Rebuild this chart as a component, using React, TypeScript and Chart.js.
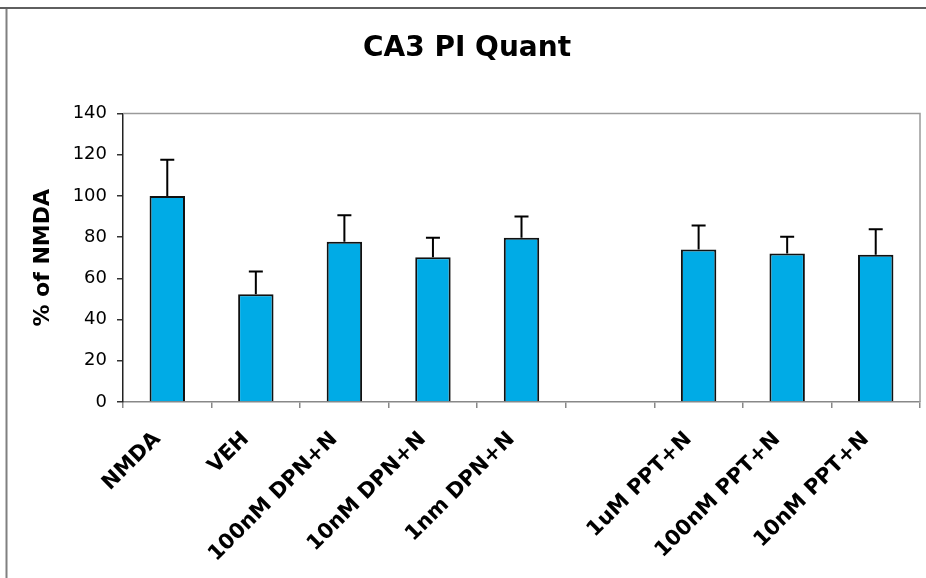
import React, { useEffect, useRef } from "react";
import { Chart, registerables } from "chart.js";

Chart.register(...registerables);

const chartTitle = "CA3 PI Quant";
const yAxisTitle = "% of NMDA";
const categories = [
  "NMDA",
  "VEH",
  "100nM DPN+N",
  "10nM DPN+N",
  "1nm DPN+N",
  "",
  "1uM PPT+N",
  "100nM PPT+N",
  "10nM PPT+N",
];
const means: (number | null)[] = [100, 52.3, 77.8, 70.3, 79.7, null, 74.0, 72.1, 71.5];
const errorsUp: (number | null)[] = [17.6, 11.1, 12.8, 9.4, 10.4, null, 11.7, 8.1, 12.3];
const yMin = 0;
const yMax = 140;
const yStep = 20;

const W = 926;
const H = 578;

const framePlugin = {
  id: "frameAndErrors",
  beforeDraw(chart: any) {
    const ctx = chart.ctx;
    ctx.save();
    ctx.fillStyle = "#ffffff";
    ctx.fillRect(0, 0, chart.width, chart.height);
    ctx.strokeStyle = "#808080";
    ctx.lineWidth = 2;
    ctx.beginPath();
    ctx.moveTo(6.5, chart.height);
    ctx.lineTo(6.5, 9);
    ctx.stroke();
    ctx.strokeStyle = "#2a2a2a";
    ctx.lineWidth = 1.5;
    ctx.beginPath();
    ctx.moveTo(0, 8);
    ctx.lineTo(chart.width, 8);
    ctx.stroke();
    ctx.restore();
  },
  afterDatasetsDraw(chart: any) {
    const ctx = chart.ctx;
    const meta = chart.getDatasetMeta(0);
    const ys = chart.scales.y;
    ctx.save();
    ctx.strokeStyle = "#000000";
    ctx.lineWidth = 2;
    meta.data.forEach((bar: any, i: number) => {
      const v = means[i];
      const e = errorsUp[i];
      if (v == null || e == null) return;
      const x = bar.x;
      const y0 = ys.getPixelForValue(v);
      const y1 = ys.getPixelForValue(v + e);
      ctx.beginPath();
      ctx.moveTo(x, y0);
      ctx.lineTo(x, y1);
      ctx.moveTo(x - 7, y1);
      ctx.lineTo(x + 7, y1);
      ctx.stroke();
    });
    const a = chart.chartArea;
    ctx.strokeStyle = "#9a9a9a";
    ctx.lineWidth = 1.5;
    ctx.beginPath();
    ctx.moveTo(a.left, a.top);
    ctx.lineTo(a.right, a.top);
    ctx.lineTo(a.right, a.bottom);
    ctx.stroke();
    ctx.restore();
  },
};

export default function App() {
  const ref = useRef<HTMLCanvasElement | null>(null);
  useEffect(() => {
    if (!ref.current) return;
    const chart = new Chart(ref.current, {
      type: "bar",
      data: {
        labels: categories,
        datasets: [
          {
            data: means,
            backgroundColor: "#00ABE6",
            borderColor: "#111111",
            borderWidth: 2,
            barPercentage: 0.4,
            categoryPercentage: 1,
          },
        ],
      },
      options: {
        responsive: false,
        animation: false,
        devicePixelRatio: 1,
        layout: { padding: { left: 14, right: 6, top: 0, bottom: 0 } },
        plugins: {
          legend: { display: false },
          tooltip: { enabled: false },
          title: {
            display: true,
            text: chartTitle,
            color: "#000000",
            font: { family: "DejaVu Sans", size: 28, weight: "bold" },
            padding: { top: 32, bottom: 48 },
          },
        },
        scales: {
          x: {
            grid: {
              display: true,
              drawOnChartArea: false,
              drawTicks: true,
              tickLength: 6,
              color: "#888888",
              lineWidth: 1.5,
              offset: true,
            },
            border: { color: "#888888", width: 1.5 },
            ticks: {
              color: "#000000",
              font: { family: "DejaVu Sans", size: 21, weight: "bold" },
              maxRotation: 45,
              minRotation: 45,
              autoSkip: false,
              padding: 19,
              labelOffset: -10,
            },
            afterFit: (s: any) => {
              s.height = 176;
            },
          },
          y: {
            min: yMin,
            max: yMax,
            grid: {
              display: true,
              drawOnChartArea: false,
              drawTicks: true,
              tickLength: 6,
              color: "#333333",
              lineWidth: 1.5,
            },
            border: { color: "#222222", width: 1.5 },
            ticks: {
              stepSize: yStep,
              color: "#000000",
              font: { family: "DejaVu Sans", size: 18 },
              padding: 10,
            },
            title: {
              display: true,
              text: yAxisTitle,
              color: "#000000",
              font: { family: "DejaVu Sans", size: 22, weight: "bold" },
              padding: { top: 16, bottom: 0 },
            },
            afterFit: (s: any) => {
              s.width = 109;
            },
          },
        },
      },
      plugins: [framePlugin],
    });
    return () => chart.destroy();
  }, []);
  return (
    <div style={{ position: "fixed", left: 0, top: 0, width: W, height: H, background: "#fff" }}>
      <canvas ref={ref} width={W} height={H} style={{ display: "block", width: W, height: H }} />
    </div>
  );
}
